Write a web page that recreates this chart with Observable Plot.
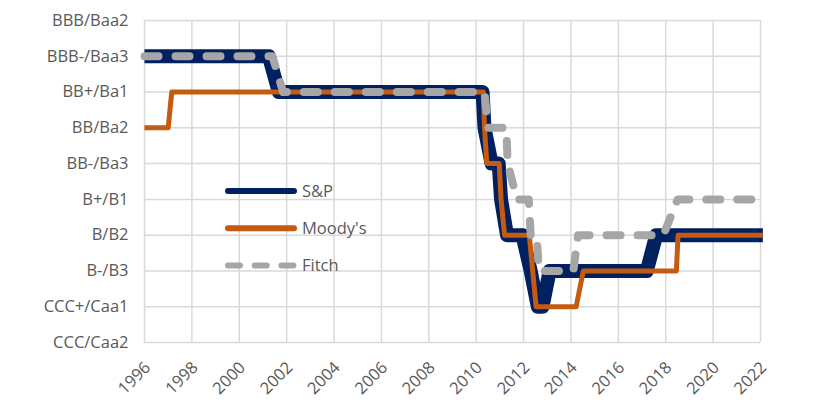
<!DOCTYPE html>
<html>
<head>
<meta charset="utf-8">
<script src="https://cdn.jsdelivr.net/npm/d3@7"></script>
<script src="https://cdn.jsdelivr.net/npm/@observablehq/plot@0.6"></script>
<style>
  html, body { margin: 0; padding: 0; background: #fff; }
  #wrap { position: relative; width: 816px; height: 404px; font-family: "Open Sans", sans-serif; }
  #legend { position: absolute; left: 0; top: 0; }
</style>
</head>
<body>
<div id="wrap"></div>
<script>
// Rating scale labels (notch 0 = lowest)
const ratingLabels = ["CCC/Caa2","CCC+/Caa1","B-/B3","B/B2","B+/B1","BB-/Ba3","BB/Ba2","BB+/Ba1","BBB-/Baa3","BBB/Baa2"];
const xTicks = [1996,1998,2000,2002,2004,2006,2008,2010,2012,2014,2016,2018,2020,2022];

// S&P
const spYears  = [1996, 2001.25, 2001.67, 2010.27, 2010.35, 2010.65, 2010.95, 2011.05, 2011.3, 2011.95, 2012.3, 2012.6, 2012.8, 2013.1, 2017.2, 2017.6, 2022.1];
const spLevels = [8, 8, 7, 7, 6, 5, 5, 4, 3, 3, 2, 1, 1, 2, 2, 3, 3];
// Moody's
const moYears  = [1996, 1997.0, 1997.15, 2010.3, 2010.35, 2010.45, 2010.97, 2011.05, 2011.2, 2012.24, 2012.53, 2014.22, 2014.52, 2018.45, 2018.52, 2022.1];
const moLevels = [6, 6, 7, 7, 6, 5, 5, 4, 3, 3, 1, 1, 2, 2, 3, 3];
// Fitch
const fiYears  = [1996, 2001.4, 2001.85, 2010.35, 2010.5, 2011.27, 2011.33, 2011.72, 2012.22, 2012.3, 2012.55, 2012.65, 2014.1, 2014.3, 2017.9, 2018.5, 2022.1];
const fiLevels = [8, 8, 7, 7, 6, 6, 5, 4, 4, 3, 3, 2, 2, 3, 3, 4, 4];

const seriesNames = ["S&P", "Moody's", "Fitch"];
const seriesColors = ["#002060", "#c55a11", "#a6a6a6"];

const toRows = (ys, vs) => ys.map((y, i) => ({year: y, level: vs[i]}));
const sp = toRows(spYears, spLevels);
const mo = toRows(moYears, moLevels);
const fi = toRows(fiYears, fiLevels);

const textColor = "#595959";
const gridColor = "#d9d9d9";
const fs = 16.5;

const chart = Plot.plot({
  width: 816,
  height: 404,
  marginLeft: 144,
  marginRight: 56,
  marginTop: 20,
  marginBottom: 62,
  style: {fontFamily: "'Open Sans', sans-serif", fontSize: fs + "px", color: textColor, background: "#fff"},
  x: {domain: [1996, 2022], axis: null},
  y: {domain: [0, 9], axis: null},
  marks: [
    Plot.gridX(xTicks, {stroke: gridColor, strokeOpacity: 1, strokeWidth: 1.5}),
    Plot.gridY(d3.range(ratingLabels.length), {stroke: gridColor, strokeOpacity: 1, strokeWidth: 1.5}),
    Plot.axisY(d3.range(ratingLabels.length), {tickSize: 0, tickPadding: 16, tickFormat: d => ratingLabels[d], fontSize: fs, fill: textColor, label: null}),
    Plot.text(xTicks, {x: d => d, frameAnchor: "bottom", text: d => String(d), rotate: -45, textAnchor: "end", dx: 7, dy: 26, fontSize: fs, fill: textColor}),
    Plot.line(sp, {x: "year", y: "level", stroke: seriesColors[0], strokeWidth: 14, strokeLinejoin: "round", strokeLinecap: "butt"}),
    Plot.line(mo, {x: "year", y: "level", stroke: seriesColors[1], strokeWidth: 5, strokeLinejoin: "round", strokeLinecap: "butt"}),
    Plot.line(fi, {x: "year", y: "level", stroke: seriesColors[2], strokeWidth: 8, strokeLinejoin: "round", strokeLinecap: "round", strokeDasharray: "14,17"})
  ]
});
document.getElementById("wrap").appendChild(chart);

// Legend (inside plot area)
const legendStyles = [
  {w: 6, dash: null},
  {w: 6, dash: null},
  {w: 6, dash: "12,14.7"}
];
const ns = "http://www.w3.org/2000/svg";
const lg = document.createElementNS(ns, "svg");
lg.setAttribute("id", "legend");
lg.setAttribute("width", 816);
lg.setAttribute("height", 404);
seriesNames.forEach((name, i) => {
  const yy = 191 + i * 37.3;
  const ln = document.createElementNS(ns, "line");
  ln.setAttribute("x1", 228); ln.setAttribute("x2", 294);
  ln.setAttribute("y1", yy); ln.setAttribute("y2", yy);
  ln.setAttribute("stroke", seriesColors[i]);
  ln.setAttribute("stroke-width", legendStyles[i].w);
  ln.setAttribute("stroke-linecap", "round");
  if (legendStyles[i].dash) ln.setAttribute("stroke-dasharray", legendStyles[i].dash);
  lg.appendChild(ln);
  const tx = document.createElementNS(ns, "text");
  tx.setAttribute("x", 302); tx.setAttribute("y", yy);
  tx.setAttribute("dy", "0.35em");
  tx.setAttribute("fill", textColor);
  tx.setAttribute("font-size", fs);
  tx.setAttribute("font-family", "'Open Sans', sans-serif");
  tx.textContent = name;
  lg.appendChild(tx);
});
document.getElementById("wrap").appendChild(lg);
</script>
</body>
</html>
